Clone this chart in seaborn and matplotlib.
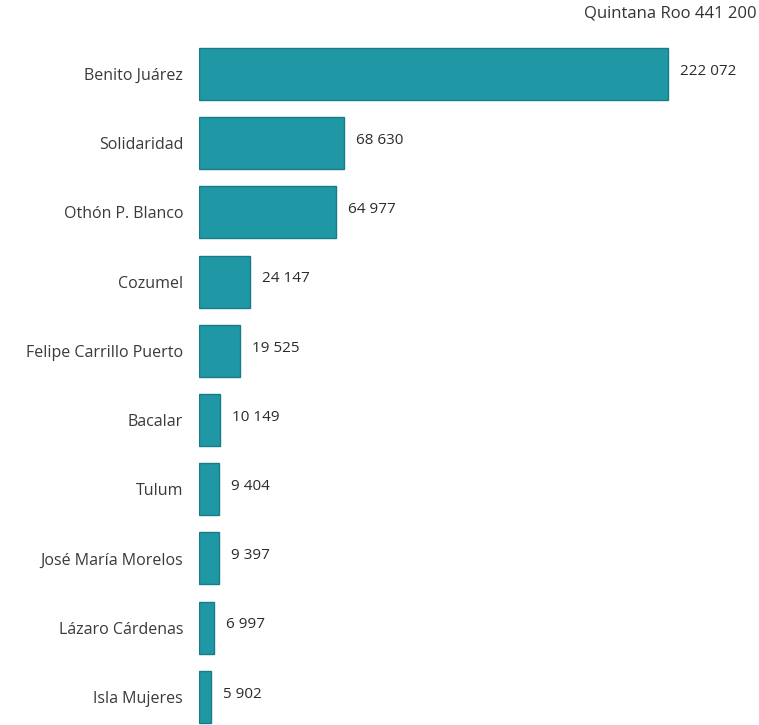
import matplotlib
matplotlib.use("Agg")
import matplotlib.pyplot as plt
import seaborn as sns
import pandas as pd

municipios = ["Benito Juárez", "Solidaridad", "Othón P. Blanco", "Cozumel",
              "Felipe Carrillo Puerto", "Bacalar", "Tulum", "José María Morelos",
              "Lázaro Cárdenas", "Isla Mujeres"]
poblacion = [222072, 68630, 64977, 24147, 19525, 10149, 9404, 9397, 6997, 5902]
etiquetas = ["222 072", "68 630", "64 977", "24 147", "19 525", "10 149",
             "9 404", "9 397", "6 997", "5 902"]
titulo = "Quintana Roo 441 200"

sns.set_theme(style="white")
plt.rcParams['font.family'] = ['Open Sans', 'DejaVu Sans']

df = pd.DataFrame({"municipio": municipios, "poblacion": poblacion})

fig = plt.figure(figsize=(7.59, 7.25), dpi=100)
ax = fig.add_axes([199/759, 0, 560/759, 1])

sns.barplot(data=df, x="poblacion", y="municipio", orient="h", ax=ax,
            color="#1f97a5", width=0.75, edgecolor="#167c88", linewidth=1.0,
            saturation=1)

scale = 469 / 222072
ax.set_xlim(0, 560 / scale)
ax.set_ylim((725 - 74) / 69.2, -74 / 69.2)

for i, (v, t) in enumerate(zip(poblacion, etiquetas)):
    ax.text(v + 12 / scale, i - 0.04, t, va="center", ha="left",
            fontsize=11, color="#2b2b2b", clip_on=False)

ax.set_xlabel("")
ax.set_ylabel("")
ax.set_xticks([])
ax.tick_params(axis="y", length=0, pad=11.5, labelsize=11.5, labelcolor="#3a3a3a")
for s in ax.spines.values():
    s.set_visible(False)

fig.text(757/759, 1 - 14/725, titulo, ha="right", va="center",
         fontsize=12, color="#333333")

fig.savefig("out.png", dpi=100)
